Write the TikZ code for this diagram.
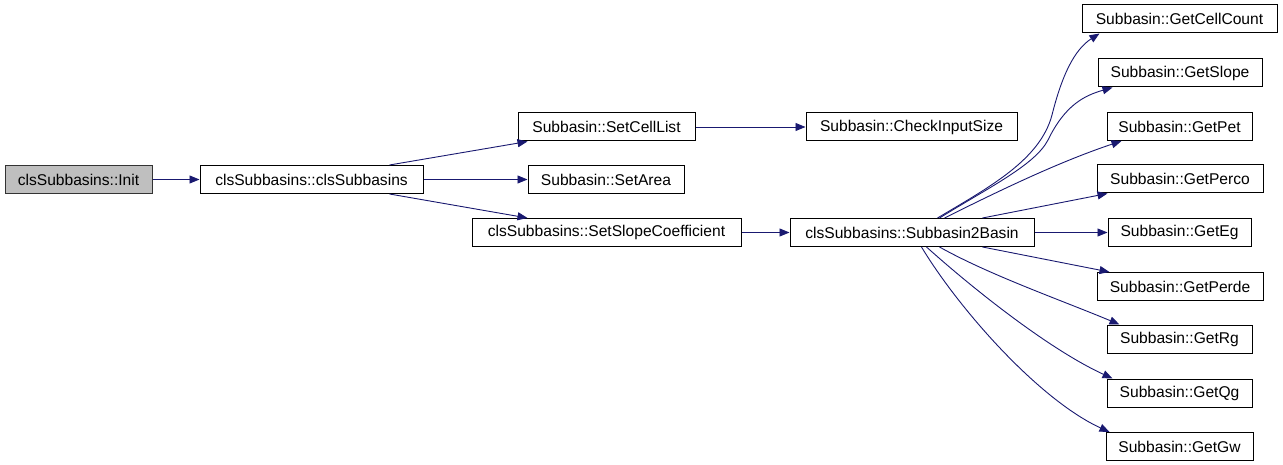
\documentclass[tikz,border=0pt]{standalone}
\usepackage{fontspec}
\setmainfont{Liberation Sans}
\usetikzlibrary{arrows.meta}
\definecolor{edgeblue}{HTML}{191970}
\definecolor{grayfill}{HTML}{BFBFBF}
\begin{document}
\begin{tikzpicture}[x=1pt,y=-1pt,
  fn/.style={draw=black,line width=1pt,inner sep=0pt,minimum height=28pt,
    minimum width=#1,font=\fontsize{15.6}{18}\selectfont,anchor=center},
  hl/.style={fill=grayfill,draw=black!80},
  call/.style={draw=edgeblue,line width=0.9pt,-{Triangle[length=10pt,width=8pt]}}]
\useasboundingbox (0,0) rectangle (1283,465);
% nodes
\node[fn=147pt,hl] (init) at (78.5,179.5) {clsSubbasins::Init};
\node[fn=223pt] (csb) at (311.5,179.5) {clsSubbasins::clsSubbasins};
\node[fn=177pt] (scl) at (606.5,127) {Subbasin::SetCellList};
\node[fn=156pt] (sar) at (606,179.5) {Subbasin::SetArea};
\node[fn=269pt] (ssc) at (606.5,232.5) {clsSubbasins::SetSlopeCoefficient};
\node[fn=211pt] (cis) at (911.5,127) {Subbasin::CheckInputSize};
\node[fn=244pt] (s2b) at (912,232.5) {clsSubbasins::Subbasin2Basin};
\node[fn=195pt] (gcc) at (1179.5,19) {Subbasin::GetCellCount};
\node[fn=164pt] (gsl) at (1180,73) {Subbasin::GetSlope};
\node[fn=145pt] (gpt) at (1179.5,126.5) {Subbasin::GetPet};
\node[fn=166pt] (gpc) at (1180,179) {Subbasin::GetPerco};
\node[fn=143pt] (geg) at (1179.5,232.5) {Subbasin::GetEg};
\node[fn=166pt] (gpd) at (1180,286.5) {Subbasin::GetPerde};
\node[fn=145pt] (grg) at (1179.5,339) {Subbasin::GetRg};
\node[fn=145pt] (gqg) at (1179.5,393) {Subbasin::GetQg};
\node[fn=147pt] (ggw) at (1179.5,446.5) {Subbasin::GetGw};
% waypoints for curved connectors
\coordinate (m1) at (1052,115);
\coordinate (m2) at (1048,140);
% connectors
\draw[call] (init) -- (csb);
\draw[call] ([xshift=190pt]csb.north west) -- ([xshift=10pt]scl.south west);
\draw[call] (csb.east) -- (sar.west);
\draw[call] ([xshift=190pt]csb.south west) -- ([xshift=56pt]ssc.north west);
\draw[call] (scl.east) -- (cis.west);
\draw[call] (ssc.east) -- (s2b.west);
\draw[call] ([xshift=148pt]s2b.north west) .. controls +(52,-31) and +(-12,45) .. (m1)
   .. controls +(10,-40) and +(-25,16) .. ([xshift=18pt]gcc.south west);
\draw[call] ([xshift=150pt]s2b.north west) .. controls +(50,-31) and +(-13,25) .. (m2)
   .. controls +(17,-35) and +(-28,8) .. ([xshift=15pt]gsl.south west);
\draw[call] ([xshift=155pt]s2b.north west) .. controls +(60,-30) and +(-60,20) .. ([xshift=15pt]gpt.south west);
\draw[call] ([xshift=193pt]s2b.north west) -- ([xshift=11pt]gpc.south west);
\draw[call] (s2b.east) -- (geg.west);
\draw[call] ([xshift=193pt]s2b.south west) -- ([xshift=13pt]gpd.north west);
\draw[call] ([xshift=150pt]s2b.south west) .. controls +(50,28) and +(-60,-25) .. ([xshift=13pt]grg.north west);
\draw[call] ([xshift=137pt]s2b.south west) .. controls +(48,43) and +(-63,-29) .. ([xshift=6pt]gqg.north west);
\draw[call] ([xshift=132pt]s2b.south west) .. controls +(38,63) and +(-70,-32) .. ([xshift=4pt]ggw.north west);
\end{tikzpicture}
\end{document}
